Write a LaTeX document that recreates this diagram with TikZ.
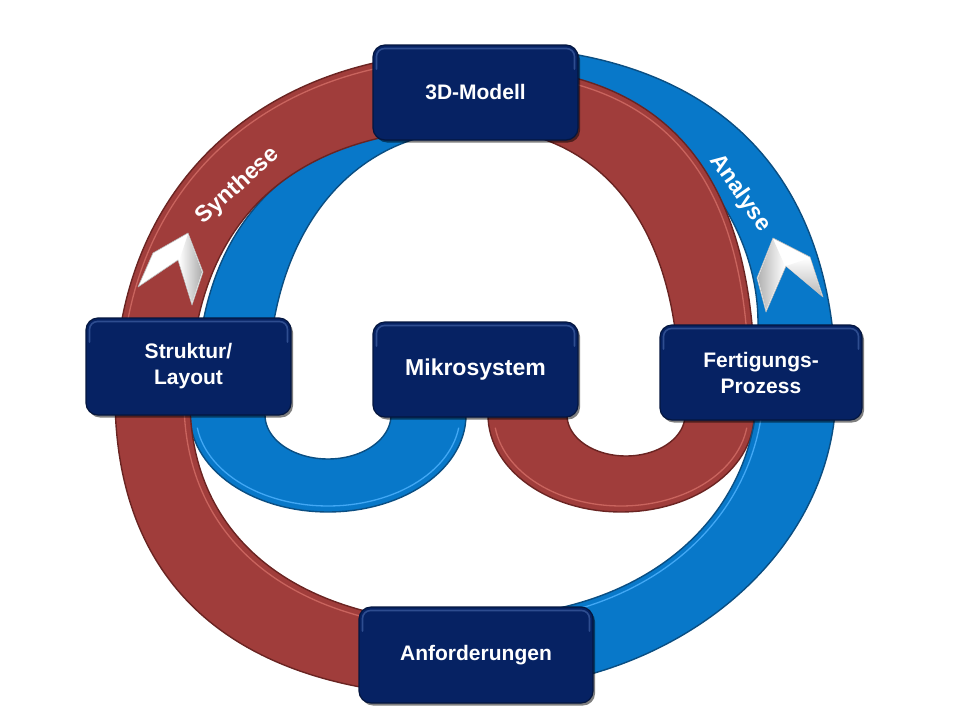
\documentclass[tikz,border=0pt]{standalone}
\usepackage{fontspec}
\setmainfont{Liberation Sans}
\usetikzlibrary{shadows}
\definecolor{redband}{HTML}{A03D3B}
\definecolor{redline}{HTML}{6A2422}
\definecolor{redlight}{HTML}{C9645E}
\definecolor{blueband}{HTML}{0878C9}
\definecolor{blueline}{HTML}{0B4E82}
\definecolor{bluelight}{HTML}{42A8F5}
\definecolor{navy}{HTML}{062263}
\definecolor{navyrim}{HTML}{2E4D90}
\definecolor{navydark}{HTML}{04163F}
\begin{document}
\begin{tikzpicture}[x=1pt,y=-1pt,
  redfill/.style={fill=redband, draw=redline, line width=1.4pt, line join=round},
  bluefill/.style={fill=blueband, draw=blueline, line width=1.4pt, line join=round},
  redhl/.style={draw=redlight, line width=1.3pt},
  bluehl/.style={draw=bluelight, line width=1.3pt},
  box/.style={rectangle, rounded corners=12pt, fill=navy, draw=navydark, line width=1.2pt,
    text=white, align=center, inner sep=0pt,
    font=\bfseries\fontsize{21}{26}\selectfont,
    drop shadow={shadow xshift=2pt, shadow yshift=-2.5pt, opacity=0.5, fill=black},
    path picture={\draw[navyrim, line width=1.6pt, rounded corners=8pt, line cap=round]
      ([shift={(3.5pt,-24pt)}]path picture bounding box.north west) --
      ([shift={(3.5pt,-3.5pt)}]path picture bounding box.north west) --
      ([shift={(-3.5pt,-3.5pt)}]path picture bounding box.north east) --
      ([shift={(-3.5pt,-24pt)}]path picture bounding box.north east);}},
  bandlabel/.style={text=white, font=\bfseries\fontsize{23}{27}\selectfont, inner sep=0pt},
  chev/.style={fill=white, draw=gray!55, line width=0.6pt, line join=round}]
\useasboundingbox (0,0) rectangle (960,720);

% ---------- blue inner band (left, upper) ----------
\path[bluefill] (196,400) .. controls (196,223) and (289.75,124) .. (475,124)
  -- (475,130) .. controls (350.8,130) and (268,234) .. (268,390) -- (268,400) -- cycle;
% ---------- blue U loop under Struktur/Layout ----------
\path[bluefill] (190,385) -- plot[domain=0:180,samples=60] ({328-138*cos(\x)},{415+97*sin(\x)})
  -- (466,385) -- (391,385) -- plot[domain=0:180,samples=60] ({328+63*cos(\x)},{415+44*sin(\x)})
  -- (265,385) -- cycle;
\draw[bluehl] plot[domain=8:172,samples=60] ({328-132*cos(\x)},{415+91*sin(\x)});
% ---------- red outer band (left) ----------
\path[redfill] (475,697) .. controls (241,697) and (115,591.3) .. (115,395)
  .. controls (115,189.2) and (259,52) .. (475,52)
  -- (475,128) .. controls (289.75,128) and (190,223.2) .. (190,400)
  .. controls (190,538.9) and (298.3,624) .. (475,624) -- cycle;
\draw[redhl] (121,395) .. controls (121,192) and (261,58) .. (475,58);
\draw[redhl] (184,400) .. controls (184,543) and (295,630) .. (475,630);
% ---------- red U loop under Fertigungs-Prozess ----------
\path[redfill] (488,385) -- plot[domain=0:180,samples=60] ({621-133*cos(\x)},{415+97*sin(\x)})
  -- (754,385) -- (685,385) -- plot[domain=0:180,samples=60] ({626+59*cos(\x)},{415+41*sin(\x)})
  -- (567,385) -- cycle;
\draw[redhl] plot[domain=8:172,samples=60] ({621-127*cos(\x)},{415+91*sin(\x)});
% ---------- blue outer band (right) ----------
\path[bluefill] (475,46) .. controls (709.65,46) and (836,166.4) .. (836,390)
  .. controls (836,555) and (673.55,690) .. (475,690)
  -- (475,617) .. controls (641.97,617) and (758,519.83) .. (758,380)
  -- (758,323) .. controls (758,220) and (680,110) .. (530,80) -- (475,80) -- cycle;
\draw[bluehl] (475,623) .. controls (644,623) and (764,521) .. (764,380) -- (764,330);
% ---------- red inner band (right, upper) ----------
\path[redfill] (475,66) .. controls (665.4,66) and (755,169.7) .. (755,390)
  -- (679,390) .. controls (679,227.6) and (601.5,128) .. (475,128) -- cycle;
\draw[redhl] (475,72) .. controls (662,72) and (749,172) .. (749,390);

% ---------- chevrons ----------
\path[chev] (188,233) -- (203,272) -- (192,305) -- (178,260) -- (138,287) -- (153,253) -- cycle;
\path[left color=white, right color=gray!65] (188,234) -- (202,272) -- (192,303) -- (179,261) -- cycle;
\path[chev] (773,238) -- (810,257) -- (823,297) -- (786,266) -- (766,312) -- (757,278) -- cycle;
\path[left color=gray!60, right color=white] (773,239) -- (785,266) -- (766,310) -- (758,278) -- cycle;
\path[top color=white, bottom color=gray!55] (786,266) -- (810,258) -- (822,296) -- cycle;

% ---------- band labels ----------
\node[bandlabel, rotate=42] (syn) at (238,186) {Synthese};
\node[bandlabel, rotate=-55] (ana) at (740,193) {Analyse};

% ---------- boxes ----------
\node[box, minimum width=205pt, minimum height=95pt] (m3d) at (475.5,92.5) {3D-Modell};
\node[box, minimum width=205pt, minimum height=97pt] (struk) at (188.5,366.5) {Struktur/\\Layout};
\node[box, minimum width=205pt, minimum height=95pt, font=\bfseries\fontsize{23}{27}\selectfont] (mikro) at (475.5,369.5) {Mikrosystem};
\node[box, minimum width=202pt, minimum height=95pt] (fert) at (761,372.5) {Fertigungs-\\Prozess};
\node[box, minimum width=234pt, minimum height=96pt] (anf) at (476,655) {Anforderungen};
\end{tikzpicture}
\end{document}
